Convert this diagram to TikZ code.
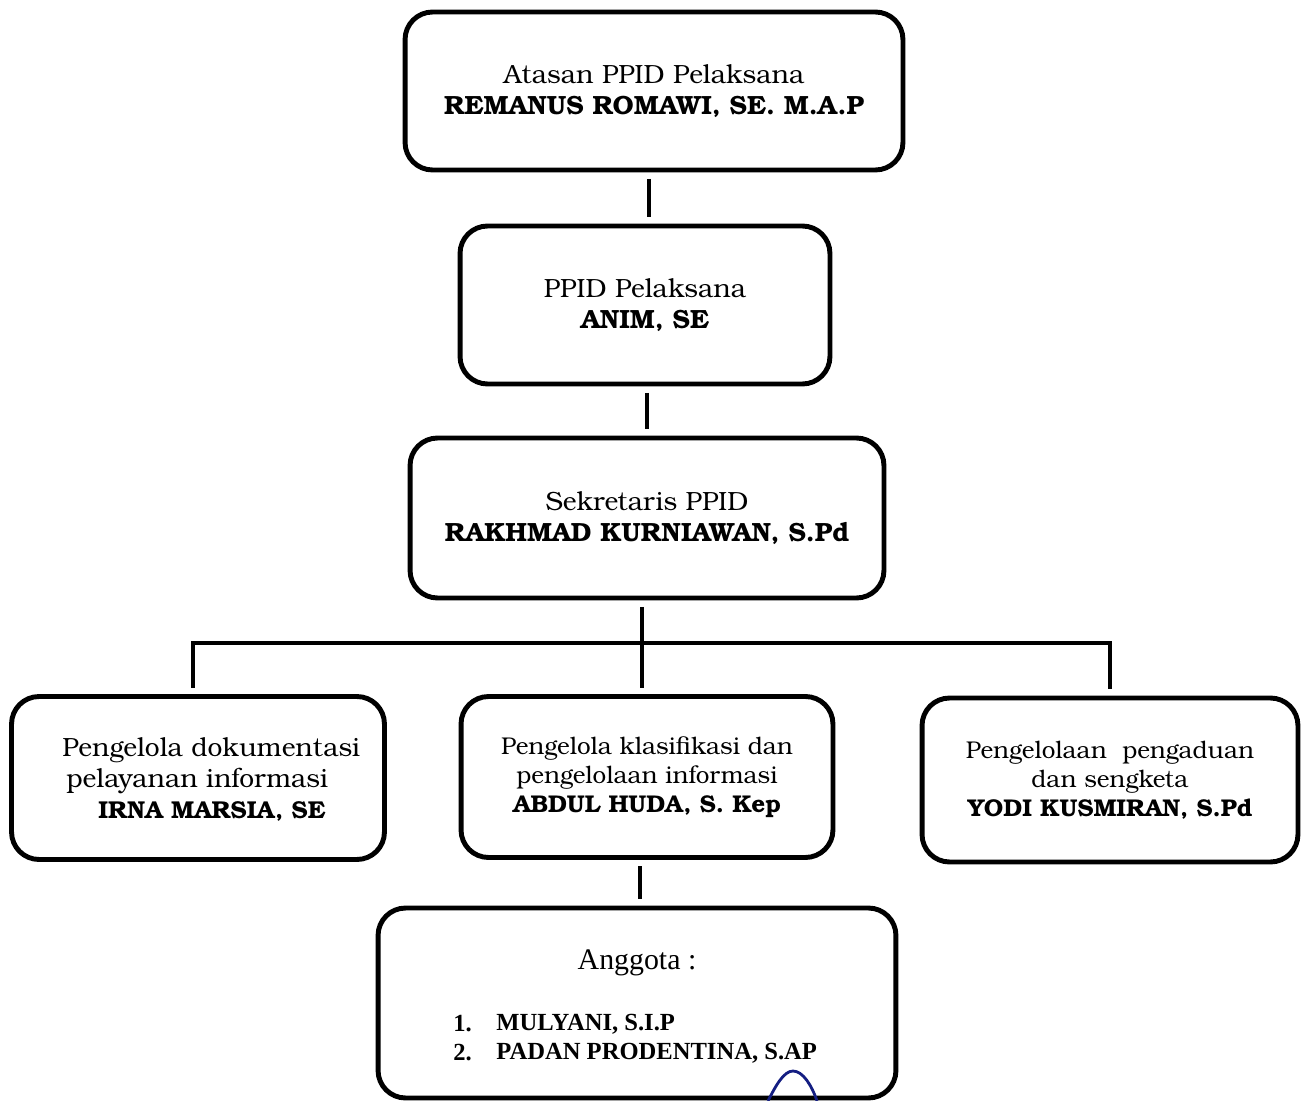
\documentclass[tikz,border=0pt]{standalone}
\usepackage{fontspec}
\newfontfamily\timesf{Liberation Serif}
\newfontfamily\bkf{TeX Gyre Bonum}
\tikzset{
  box/.style={draw, line width=2.8pt, rounded corners=0.55cm, inner sep=0pt, align=center,
    font=\bkf\fontsize{15}{17.6}\selectfont},
  small/.style={font=\bkf\fontsize{13.8}{16.4}\selectfont},
  conn/.style={draw, line width=2.2pt, shorten >=0.13cm, shorten <=0.13cm},
  txt/.style={inner sep=0pt, font=\bkf\fontsize{15}{17.6}\selectfont},
  ttxt/.style={inner sep=0pt, font=\timesf\bfseries\fontsize{14}{16.4}\selectfont},
}
\begin{document}
\begin{tikzpicture}[x=0.02cm,y=-0.02cm]
\useasboundingbox (0,0) rectangle (1302,1101);
% boxes
\node[box, minimum width=9.96cm, minimum height=3.16cm] (top) at (654,91)
  {Atasan PPID Pelaksana\\ \bfseries REMANUS ROMAWI, SE. M.A.P};
\node[box, minimum width=7.4cm, minimum height=3.16cm] (ppid) at (645,305)
  {PPID Pelaksana\\ \bfseries ANIM, SE};
\node[box, minimum width=9.48cm, minimum height=3.2cm] (sek) at (647,518)
  {Sekretaris PPID\\ \bfseries RAKHMAD KURNIAWAN, S.Pd};
\node[box, minimum width=7.46cm, minimum height=3.26cm] (left) at (198,778) {};
\node[box, small, minimum width=7.44cm, minimum height=3.22cm] (mid) at (647,777)
  {Pengelola klasifikasi dan\\ pengelolaan informasi\\ \bfseries ABDUL HUDA, S. Kep};
\node[box, small, minimum width=7.52cm, minimum height=3.28cm] (right) at (1110,780)
  {Pengelolaan\ \ pengaduan\\ dan sengketa\\ \bfseries YODI KUSMIRAN, S.Pd};
\node[box, minimum width=10.36cm, minimum height=3.8cm] (angg) at (637,1003) {};
% left box text
\node[txt, anchor=west] (l1) at (62,750) {Pengelola dokumentasi};
\node[txt, anchor=west] (l2) at (66,781) {pelayanan informasi};
\node[txt, anchor=west, font=\bkf\bfseries\fontsize{13.9}{16.4}\selectfont] (l3) at (98,811) {IRNA MARSIA, SE};
% anggota text
\node[inner sep=0pt, font=\timesf\fontsize{17}{20}\selectfont] (ah) at (637,963) {Anggota :};
\node[ttxt, anchor=west] (n1) at (453,1024) {1.};
\node[ttxt, anchor=west] (m1) at (496,1024) {MULYANI, S.I.P};
\node[ttxt, anchor=west] (n2) at (453,1053) {2.};
\node[ttxt, anchor=west] (m2) at (496,1053) {PADAN PRODENTINA, S.AP};
% connectors
\coordinate (c1) at (649,0);
\coordinate (c2) at (647,0);
\coordinate (bus) at (642,643);
\coordinate (lb) at (193,643);
\coordinate (rb) at (1110,643);
\coordinate (c3) at (640,0);
\draw[conn] (top.south -| c1) -- (ppid.north -| c1);
\draw[conn] (ppid.south -| c2) -- (sek.north -| c2);
\draw[conn] (sek.south -| bus) -- (mid.north -| bus);
\draw[conn] (left.north -| lb) -- (lb) -- (rb) -- (right.north -| rb);
\draw[conn] (mid.south -| c3) -- (angg.north -| c3);
% blue mark
\draw[line width=1.6pt, color={rgb,255:red,20;green,30;blue,130}]
  (768,1101) .. controls (776,1085) and (784,1071) .. (793,1071)
  .. controls (803,1071) and (812,1086) .. (817,1101);
\end{tikzpicture}
\end{document}
